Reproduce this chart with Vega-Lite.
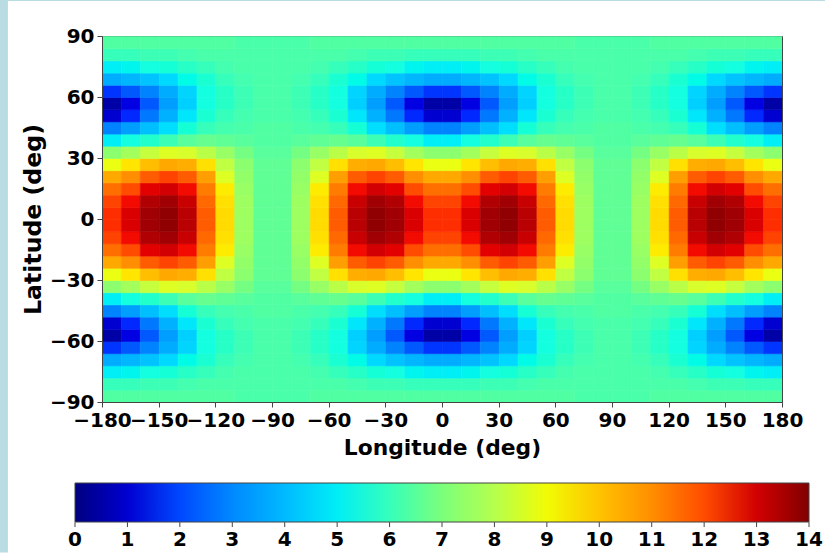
{"$schema":"https://vega.github.io/schema/vega-lite/v6.json","width":680,"height":366,"padding":{"left":102,"top":36,"right":43,"bottom":151},"autosize":"none","background":"#ffffff","config":{"view":{"stroke":"#444444","strokeWidth":1},"font":"DejaVu Sans"},"resolve":{"scale":{"x":"independent"},"axis":{"y":"independent"}},"layer":[{"data":{"values":[
{"x":-180,"y":-90,"v":6.4},{"x":-170,"y":-90,"v":6.4},{"x":-160,"y":-90,"v":6.4},{"x":-150,"y":-90,"v":6.4},{"x":-140,"y":-90,"v":6.4},{"x":-130,"y":-90,"v":6.4},{"x":-120,"y":-90,"v":6.4},{"x":-110,"y":-90,"v":6.3},{"x":-100,"y":-90,"v":6.3},{"x":-90,"y":-90,"v":6.3},{"x":-80,"y":-90,"v":6.3},{"x":-70,"y":-90,"v":6.4},{"x":-60,"y":-90,"v":6.4},{"x":-50,"y":-90,"v":6.4},{"x":-40,"y":-90,"v":6.4},{"x":-30,"y":-90,"v":6.4},{"x":-20,"y":-90,"v":6.4},{"x":-10,"y":-90,"v":6.4},{"x":0,"y":-90,"v":6.4},{"x":10,"y":-90,"v":6.4},{"x":20,"y":-90,"v":6.4},{"x":30,"y":-90,"v":6.4},{"x":40,"y":-90,"v":6.4},{"x":50,"y":-90,"v":6.4},{"x":60,"y":-90,"v":6.4},{"x":70,"y":-90,"v":6.3},{"x":80,"y":-90,"v":6.3},{"x":90,"y":-90,"v":6.3},{"x":100,"y":-90,"v":6.3},{"x":110,"y":-90,"v":6.4},{"x":120,"y":-90,"v":6.4},{"x":130,"y":-90,"v":6.4},{"x":140,"y":-90,"v":6.4},{"x":150,"y":-90,"v":6.4},{"x":160,"y":-90,"v":6.4},{"x":170,"y":-90,"v":6.4},
{"x":-180,"y":-84,"v":6.0},{"x":-170,"y":-84,"v":6.0},{"x":-160,"y":-84,"v":6.1},{"x":-150,"y":-84,"v":6.1},{"x":-140,"y":-84,"v":6.2},{"x":-130,"y":-84,"v":6.3},{"x":-120,"y":-84,"v":6.3},{"x":-110,"y":-84,"v":6.3},{"x":-100,"y":-84,"v":6.3},{"x":-90,"y":-84,"v":6.3},{"x":-80,"y":-84,"v":6.3},{"x":-70,"y":-84,"v":6.3},{"x":-60,"y":-84,"v":6.3},{"x":-50,"y":-84,"v":6.2},{"x":-40,"y":-84,"v":6.1},{"x":-30,"y":-84,"v":6.1},{"x":-20,"y":-84,"v":6.0},{"x":-10,"y":-84,"v":6.0},{"x":0,"y":-84,"v":6.0},{"x":10,"y":-84,"v":6.0},{"x":20,"y":-84,"v":6.1},{"x":30,"y":-84,"v":6.1},{"x":40,"y":-84,"v":6.2},{"x":50,"y":-84,"v":6.3},{"x":60,"y":-84,"v":6.3},{"x":70,"y":-84,"v":6.3},{"x":80,"y":-84,"v":6.3},{"x":90,"y":-84,"v":6.3},{"x":100,"y":-84,"v":6.3},{"x":110,"y":-84,"v":6.3},{"x":120,"y":-84,"v":6.3},{"x":130,"y":-84,"v":6.2},{"x":140,"y":-84,"v":6.1},{"x":150,"y":-84,"v":6.1},{"x":160,"y":-84,"v":6.0},{"x":170,"y":-84,"v":6.0},
{"x":-180,"y":-78,"v":5.0},{"x":-170,"y":-78,"v":5.1},{"x":-160,"y":-78,"v":5.3},{"x":-150,"y":-78,"v":5.5},{"x":-140,"y":-78,"v":5.8},{"x":-130,"y":-78,"v":6.0},{"x":-120,"y":-78,"v":6.2},{"x":-110,"y":-78,"v":6.3},{"x":-100,"y":-78,"v":6.3},{"x":-90,"y":-78,"v":6.3},{"x":-80,"y":-78,"v":6.3},{"x":-70,"y":-78,"v":6.2},{"x":-60,"y":-78,"v":6.0},{"x":-50,"y":-78,"v":5.8},{"x":-40,"y":-78,"v":5.5},{"x":-30,"y":-78,"v":5.3},{"x":-20,"y":-78,"v":5.1},{"x":-10,"y":-78,"v":5.0},{"x":0,"y":-78,"v":5.0},{"x":10,"y":-78,"v":5.1},{"x":20,"y":-78,"v":5.3},{"x":30,"y":-78,"v":5.5},{"x":40,"y":-78,"v":5.8},{"x":50,"y":-78,"v":6.0},{"x":60,"y":-78,"v":6.2},{"x":70,"y":-78,"v":6.3},{"x":80,"y":-78,"v":6.3},{"x":90,"y":-78,"v":6.3},{"x":100,"y":-78,"v":6.3},{"x":110,"y":-78,"v":6.2},{"x":120,"y":-78,"v":6.0},{"x":130,"y":-78,"v":5.8},{"x":140,"y":-78,"v":5.5},{"x":150,"y":-78,"v":5.3},{"x":160,"y":-78,"v":5.1},{"x":170,"y":-78,"v":5.0},
{"x":-180,"y":-72,"v":3.7},{"x":-170,"y":-72,"v":3.9},{"x":-160,"y":-72,"v":4.2},{"x":-150,"y":-72,"v":4.7},{"x":-140,"y":-72,"v":5.2},{"x":-130,"y":-72,"v":5.6},{"x":-120,"y":-72,"v":6.0},{"x":-110,"y":-72,"v":6.2},{"x":-100,"y":-72,"v":6.3},{"x":-90,"y":-72,"v":6.3},{"x":-80,"y":-72,"v":6.2},{"x":-70,"y":-72,"v":6.0},{"x":-60,"y":-72,"v":5.6},{"x":-50,"y":-72,"v":5.2},{"x":-40,"y":-72,"v":4.7},{"x":-30,"y":-72,"v":4.2},{"x":-20,"y":-72,"v":3.9},{"x":-10,"y":-72,"v":3.7},{"x":0,"y":-72,"v":3.7},{"x":10,"y":-72,"v":3.9},{"x":20,"y":-72,"v":4.2},{"x":30,"y":-72,"v":4.7},{"x":40,"y":-72,"v":5.2},{"x":50,"y":-72,"v":5.6},{"x":60,"y":-72,"v":6.0},{"x":70,"y":-72,"v":6.2},{"x":80,"y":-72,"v":6.3},{"x":90,"y":-72,"v":6.3},{"x":100,"y":-72,"v":6.2},{"x":110,"y":-72,"v":6.0},{"x":120,"y":-72,"v":5.6},{"x":130,"y":-72,"v":5.2},{"x":140,"y":-72,"v":4.7},{"x":150,"y":-72,"v":4.2},{"x":160,"y":-72,"v":3.9},{"x":170,"y":-72,"v":3.7},
{"x":-180,"y":-66,"v":1.8},{"x":-170,"y":-66,"v":2.2},{"x":-160,"y":-66,"v":2.9},{"x":-150,"y":-66,"v":3.7},{"x":-140,"y":-66,"v":4.6},{"x":-130,"y":-66,"v":5.3},{"x":-120,"y":-66,"v":5.8},{"x":-110,"y":-66,"v":6.1},{"x":-100,"y":-66,"v":6.3},{"x":-90,"y":-66,"v":6.3},{"x":-80,"y":-66,"v":6.1},{"x":-70,"y":-66,"v":5.8},{"x":-60,"y":-66,"v":5.3},{"x":-50,"y":-66,"v":4.6},{"x":-40,"y":-66,"v":3.7},{"x":-30,"y":-66,"v":2.9},{"x":-20,"y":-66,"v":2.2},{"x":-10,"y":-66,"v":1.8},{"x":0,"y":-66,"v":1.8},{"x":10,"y":-66,"v":2.2},{"x":20,"y":-66,"v":2.9},{"x":30,"y":-66,"v":3.7},{"x":40,"y":-66,"v":4.6},{"x":50,"y":-66,"v":5.3},{"x":60,"y":-66,"v":5.8},{"x":70,"y":-66,"v":6.1},{"x":80,"y":-66,"v":6.3},{"x":90,"y":-66,"v":6.3},{"x":100,"y":-66,"v":6.1},{"x":110,"y":-66,"v":5.8},{"x":120,"y":-66,"v":5.3},{"x":130,"y":-66,"v":4.6},{"x":140,"y":-66,"v":3.7},{"x":150,"y":-66,"v":2.9},{"x":160,"y":-66,"v":2.2},{"x":170,"y":-66,"v":1.8},
{"x":-180,"y":-60,"v":0.5},{"x":-170,"y":-60,"v":1.2},{"x":-160,"y":-60,"v":2.2},{"x":-150,"y":-60,"v":3.4},{"x":-140,"y":-60,"v":4.5},{"x":-130,"y":-60,"v":5.3},{"x":-120,"y":-60,"v":5.8},{"x":-110,"y":-60,"v":6.1},{"x":-100,"y":-60,"v":6.3},{"x":-90,"y":-60,"v":6.3},{"x":-80,"y":-60,"v":6.1},{"x":-70,"y":-60,"v":5.8},{"x":-60,"y":-60,"v":5.3},{"x":-50,"y":-60,"v":4.5},{"x":-40,"y":-60,"v":3.4},{"x":-30,"y":-60,"v":2.2},{"x":-20,"y":-60,"v":1.2},{"x":-10,"y":-60,"v":0.5},{"x":0,"y":-60,"v":0.5},{"x":10,"y":-60,"v":1.2},{"x":20,"y":-60,"v":2.2},{"x":30,"y":-60,"v":3.4},{"x":40,"y":-60,"v":4.5},{"x":50,"y":-60,"v":5.3},{"x":60,"y":-60,"v":5.8},{"x":70,"y":-60,"v":6.1},{"x":80,"y":-60,"v":6.3},{"x":90,"y":-60,"v":6.3},{"x":100,"y":-60,"v":6.1},{"x":110,"y":-60,"v":5.8},{"x":120,"y":-60,"v":5.3},{"x":130,"y":-60,"v":4.5},{"x":140,"y":-60,"v":3.4},{"x":150,"y":-60,"v":2.2},{"x":160,"y":-60,"v":1.2},{"x":170,"y":-60,"v":0.5},
{"x":-180,"y":-54,"v":1.0},{"x":-170,"y":-54,"v":1.7},{"x":-160,"y":-54,"v":2.7},{"x":-150,"y":-54,"v":3.8},{"x":-140,"y":-54,"v":4.9},{"x":-130,"y":-54,"v":5.6},{"x":-120,"y":-54,"v":6.0},{"x":-110,"y":-54,"v":6.2},{"x":-100,"y":-54,"v":6.3},{"x":-90,"y":-54,"v":6.3},{"x":-80,"y":-54,"v":6.2},{"x":-70,"y":-54,"v":6.0},{"x":-60,"y":-54,"v":5.6},{"x":-50,"y":-54,"v":4.9},{"x":-40,"y":-54,"v":3.8},{"x":-30,"y":-54,"v":2.7},{"x":-20,"y":-54,"v":1.7},{"x":-10,"y":-54,"v":1.0},{"x":0,"y":-54,"v":1.0},{"x":10,"y":-54,"v":1.7},{"x":20,"y":-54,"v":2.7},{"x":30,"y":-54,"v":3.8},{"x":40,"y":-54,"v":4.9},{"x":50,"y":-54,"v":5.6},{"x":60,"y":-54,"v":6.0},{"x":70,"y":-54,"v":6.2},{"x":80,"y":-54,"v":6.3},{"x":90,"y":-54,"v":6.3},{"x":100,"y":-54,"v":6.2},{"x":110,"y":-54,"v":6.0},{"x":120,"y":-54,"v":5.6},{"x":130,"y":-54,"v":4.9},{"x":140,"y":-54,"v":3.8},{"x":150,"y":-54,"v":2.7},{"x":160,"y":-54,"v":1.7},{"x":170,"y":-54,"v":1.0},
{"x":-180,"y":-48,"v":2.9},{"x":-170,"y":-48,"v":3.4},{"x":-160,"y":-48,"v":4.1},{"x":-150,"y":-48,"v":4.8},{"x":-140,"y":-48,"v":5.5},{"x":-130,"y":-48,"v":6.0},{"x":-120,"y":-48,"v":6.2},{"x":-110,"y":-48,"v":6.3},{"x":-100,"y":-48,"v":6.4},{"x":-90,"y":-48,"v":6.4},{"x":-80,"y":-48,"v":6.3},{"x":-70,"y":-48,"v":6.2},{"x":-60,"y":-48,"v":6.0},{"x":-50,"y":-48,"v":5.5},{"x":-40,"y":-48,"v":4.8},{"x":-30,"y":-48,"v":4.1},{"x":-20,"y":-48,"v":3.4},{"x":-10,"y":-48,"v":2.9},{"x":0,"y":-48,"v":2.9},{"x":10,"y":-48,"v":3.4},{"x":20,"y":-48,"v":4.1},{"x":30,"y":-48,"v":4.8},{"x":40,"y":-48,"v":5.5},{"x":50,"y":-48,"v":6.0},{"x":60,"y":-48,"v":6.2},{"x":70,"y":-48,"v":6.3},{"x":80,"y":-48,"v":6.4},{"x":90,"y":-48,"v":6.4},{"x":100,"y":-48,"v":6.3},{"x":110,"y":-48,"v":6.2},{"x":120,"y":-48,"v":6.0},{"x":130,"y":-48,"v":5.5},{"x":140,"y":-48,"v":4.8},{"x":150,"y":-48,"v":4.1},{"x":160,"y":-48,"v":3.4},{"x":170,"y":-48,"v":2.9},
{"x":-180,"y":-42,"v":5.0},{"x":-170,"y":-42,"v":5.3},{"x":-160,"y":-42,"v":5.7},{"x":-150,"y":-42,"v":6.1},{"x":-140,"y":-42,"v":6.5},{"x":-130,"y":-42,"v":6.7},{"x":-120,"y":-42,"v":6.6},{"x":-110,"y":-42,"v":6.5},{"x":-100,"y":-42,"v":6.4},{"x":-90,"y":-42,"v":6.4},{"x":-80,"y":-42,"v":6.5},{"x":-70,"y":-42,"v":6.6},{"x":-60,"y":-42,"v":6.7},{"x":-50,"y":-42,"v":6.5},{"x":-40,"y":-42,"v":6.1},{"x":-30,"y":-42,"v":5.7},{"x":-20,"y":-42,"v":5.3},{"x":-10,"y":-42,"v":5.0},{"x":0,"y":-42,"v":5.0},{"x":10,"y":-42,"v":5.3},{"x":20,"y":-42,"v":5.7},{"x":30,"y":-42,"v":6.1},{"x":40,"y":-42,"v":6.5},{"x":50,"y":-42,"v":6.7},{"x":60,"y":-42,"v":6.6},{"x":70,"y":-42,"v":6.5},{"x":80,"y":-42,"v":6.4},{"x":90,"y":-42,"v":6.4},{"x":100,"y":-42,"v":6.5},{"x":110,"y":-42,"v":6.6},{"x":120,"y":-42,"v":6.7},{"x":130,"y":-42,"v":6.5},{"x":140,"y":-42,"v":6.1},{"x":150,"y":-42,"v":5.7},{"x":160,"y":-42,"v":5.3},{"x":170,"y":-42,"v":5.0},
{"x":-180,"y":-36,"v":7.3},{"x":-170,"y":-36,"v":7.7},{"x":-160,"y":-36,"v":8.3},{"x":-150,"y":-36,"v":8.7},{"x":-140,"y":-36,"v":8.6},{"x":-130,"y":-36,"v":8.1},{"x":-120,"y":-36,"v":7.5},{"x":-110,"y":-36,"v":6.9},{"x":-100,"y":-36,"v":6.5},{"x":-90,"y":-36,"v":6.5},{"x":-80,"y":-36,"v":6.9},{"x":-70,"y":-36,"v":7.5},{"x":-60,"y":-36,"v":8.1},{"x":-50,"y":-36,"v":8.6},{"x":-40,"y":-36,"v":8.7},{"x":-30,"y":-36,"v":8.3},{"x":-20,"y":-36,"v":7.7},{"x":-10,"y":-36,"v":7.3},{"x":0,"y":-36,"v":7.3},{"x":10,"y":-36,"v":7.7},{"x":20,"y":-36,"v":8.3},{"x":30,"y":-36,"v":8.7},{"x":40,"y":-36,"v":8.6},{"x":50,"y":-36,"v":8.1},{"x":60,"y":-36,"v":7.5},{"x":70,"y":-36,"v":6.9},{"x":80,"y":-36,"v":6.5},{"x":90,"y":-36,"v":6.5},{"x":100,"y":-36,"v":6.9},{"x":110,"y":-36,"v":7.5},{"x":120,"y":-36,"v":8.1},{"x":130,"y":-36,"v":8.6},{"x":140,"y":-36,"v":8.7},{"x":150,"y":-36,"v":8.3},{"x":160,"y":-36,"v":7.7},{"x":170,"y":-36,"v":7.3},
{"x":-180,"y":-30,"v":8.9},{"x":-170,"y":-30,"v":9.3},{"x":-160,"y":-30,"v":10.1},{"x":-150,"y":-30,"v":10.5},{"x":-140,"y":-30,"v":10.4},{"x":-130,"y":-30,"v":9.4},{"x":-120,"y":-30,"v":8.2},{"x":-110,"y":-30,"v":7.3},{"x":-100,"y":-30,"v":6.6},{"x":-90,"y":-30,"v":6.6},{"x":-80,"y":-30,"v":7.3},{"x":-70,"y":-30,"v":8.2},{"x":-60,"y":-30,"v":9.4},{"x":-50,"y":-30,"v":10.4},{"x":-40,"y":-30,"v":10.5},{"x":-30,"y":-30,"v":10.1},{"x":-20,"y":-30,"v":9.3},{"x":-10,"y":-30,"v":8.9},{"x":0,"y":-30,"v":8.9},{"x":10,"y":-30,"v":9.3},{"x":20,"y":-30,"v":10.1},{"x":30,"y":-30,"v":10.5},{"x":40,"y":-30,"v":10.4},{"x":50,"y":-30,"v":9.4},{"x":60,"y":-30,"v":8.2},{"x":70,"y":-30,"v":7.3},{"x":80,"y":-30,"v":6.6},{"x":90,"y":-30,"v":6.6},{"x":100,"y":-30,"v":7.3},{"x":110,"y":-30,"v":8.2},{"x":120,"y":-30,"v":9.4},{"x":130,"y":-30,"v":10.4},{"x":140,"y":-30,"v":10.5},{"x":150,"y":-30,"v":10.1},{"x":160,"y":-30,"v":9.3},{"x":170,"y":-30,"v":8.9},
{"x":-180,"y":-24,"v":10.5},{"x":-170,"y":-24,"v":11.0},{"x":-160,"y":-24,"v":11.8},{"x":-150,"y":-24,"v":12.1},{"x":-140,"y":-24,"v":11.8},{"x":-130,"y":-24,"v":10.7},{"x":-120,"y":-24,"v":8.7},{"x":-110,"y":-24,"v":7.4},{"x":-100,"y":-24,"v":6.6},{"x":-90,"y":-24,"v":6.6},{"x":-80,"y":-24,"v":7.4},{"x":-70,"y":-24,"v":8.7},{"x":-60,"y":-24,"v":10.7},{"x":-50,"y":-24,"v":11.8},{"x":-40,"y":-24,"v":12.1},{"x":-30,"y":-24,"v":11.8},{"x":-20,"y":-24,"v":11.0},{"x":-10,"y":-24,"v":10.5},{"x":0,"y":-24,"v":10.5},{"x":10,"y":-24,"v":11.0},{"x":20,"y":-24,"v":11.8},{"x":30,"y":-24,"v":12.1},{"x":40,"y":-24,"v":11.8},{"x":50,"y":-24,"v":10.7},{"x":60,"y":-24,"v":8.7},{"x":70,"y":-24,"v":7.4},{"x":80,"y":-24,"v":6.6},{"x":90,"y":-24,"v":6.6},{"x":100,"y":-24,"v":7.4},{"x":110,"y":-24,"v":8.7},{"x":120,"y":-24,"v":10.7},{"x":130,"y":-24,"v":11.8},{"x":140,"y":-24,"v":12.1},{"x":150,"y":-24,"v":11.8},{"x":160,"y":-24,"v":11.0},{"x":170,"y":-24,"v":10.5},
{"x":-180,"y":-18,"v":11.5},{"x":-170,"y":-18,"v":12.0},{"x":-160,"y":-18,"v":12.8},{"x":-150,"y":-18,"v":13.0},{"x":-140,"y":-18,"v":12.6},{"x":-130,"y":-18,"v":11.3},{"x":-120,"y":-18,"v":9.2},{"x":-110,"y":-18,"v":7.5},{"x":-100,"y":-18,"v":6.6},{"x":-90,"y":-18,"v":6.6},{"x":-80,"y":-18,"v":7.5},{"x":-70,"y":-18,"v":9.2},{"x":-60,"y":-18,"v":11.3},{"x":-50,"y":-18,"v":12.6},{"x":-40,"y":-18,"v":13.0},{"x":-30,"y":-18,"v":12.8},{"x":-20,"y":-18,"v":12.0},{"x":-10,"y":-18,"v":11.5},{"x":0,"y":-18,"v":11.5},{"x":10,"y":-18,"v":12.0},{"x":20,"y":-18,"v":12.8},{"x":30,"y":-18,"v":13.0},{"x":40,"y":-18,"v":12.6},{"x":50,"y":-18,"v":11.3},{"x":60,"y":-18,"v":9.2},{"x":70,"y":-18,"v":7.5},{"x":80,"y":-18,"v":6.6},{"x":90,"y":-18,"v":6.6},{"x":100,"y":-18,"v":7.5},{"x":110,"y":-18,"v":9.2},{"x":120,"y":-18,"v":11.3},{"x":130,"y":-18,"v":12.6},{"x":140,"y":-18,"v":13.0},{"x":150,"y":-18,"v":12.8},{"x":160,"y":-18,"v":12.0},{"x":170,"y":-18,"v":11.5},
{"x":-180,"y":-12,"v":12.1},{"x":-170,"y":-12,"v":12.6},{"x":-160,"y":-12,"v":13.4},{"x":-150,"y":-12,"v":13.6},{"x":-140,"y":-12,"v":13.1},{"x":-130,"y":-12,"v":11.6},{"x":-120,"y":-12,"v":9.4},{"x":-110,"y":-12,"v":7.6},{"x":-100,"y":-12,"v":6.6},{"x":-90,"y":-12,"v":6.6},{"x":-80,"y":-12,"v":7.6},{"x":-70,"y":-12,"v":9.4},{"x":-60,"y":-12,"v":11.6},{"x":-50,"y":-12,"v":13.1},{"x":-40,"y":-12,"v":13.6},{"x":-30,"y":-12,"v":13.4},{"x":-20,"y":-12,"v":12.6},{"x":-10,"y":-12,"v":12.1},{"x":0,"y":-12,"v":12.1},{"x":10,"y":-12,"v":12.6},{"x":20,"y":-12,"v":13.4},{"x":30,"y":-12,"v":13.6},{"x":40,"y":-12,"v":13.1},{"x":50,"y":-12,"v":11.6},{"x":60,"y":-12,"v":9.4},{"x":70,"y":-12,"v":7.6},{"x":80,"y":-12,"v":6.6},{"x":90,"y":-12,"v":6.6},{"x":100,"y":-12,"v":7.6},{"x":110,"y":-12,"v":9.4},{"x":120,"y":-12,"v":11.6},{"x":130,"y":-12,"v":13.1},{"x":140,"y":-12,"v":13.6},{"x":150,"y":-12,"v":13.4},{"x":160,"y":-12,"v":12.6},{"x":170,"y":-12,"v":12.1},
{"x":-180,"y":-6,"v":12.3},{"x":-170,"y":-6,"v":12.9},{"x":-160,"y":-6,"v":13.6},{"x":-150,"y":-6,"v":13.8},{"x":-140,"y":-6,"v":13.3},{"x":-130,"y":-6,"v":11.8},{"x":-120,"y":-6,"v":9.5},{"x":-110,"y":-6,"v":7.6},{"x":-100,"y":-6,"v":6.6},{"x":-90,"y":-6,"v":6.6},{"x":-80,"y":-6,"v":7.6},{"x":-70,"y":-6,"v":9.5},{"x":-60,"y":-6,"v":11.8},{"x":-50,"y":-6,"v":13.3},{"x":-40,"y":-6,"v":13.8},{"x":-30,"y":-6,"v":13.6},{"x":-20,"y":-6,"v":12.9},{"x":-10,"y":-6,"v":12.3},{"x":0,"y":-6,"v":12.3},{"x":10,"y":-6,"v":12.9},{"x":20,"y":-6,"v":13.6},{"x":30,"y":-6,"v":13.8},{"x":40,"y":-6,"v":13.3},{"x":50,"y":-6,"v":11.8},{"x":60,"y":-6,"v":9.5},{"x":70,"y":-6,"v":7.6},{"x":80,"y":-6,"v":6.6},{"x":90,"y":-6,"v":6.6},{"x":100,"y":-6,"v":7.6},{"x":110,"y":-6,"v":9.5},{"x":120,"y":-6,"v":11.8},{"x":130,"y":-6,"v":13.3},{"x":140,"y":-6,"v":13.8},{"x":150,"y":-6,"v":13.6},{"x":160,"y":-6,"v":12.9},{"x":170,"y":-6,"v":12.3},
{"x":-180,"y":0,"v":12.3},{"x":-170,"y":0,"v":12.9},{"x":-160,"y":0,"v":13.6},{"x":-150,"y":0,"v":13.8},{"x":-140,"y":0,"v":13.3},{"x":-130,"y":0,"v":11.8},{"x":-120,"y":0,"v":9.5},{"x":-110,"y":0,"v":7.6},{"x":-100,"y":0,"v":6.6},{"x":-90,"y":0,"v":6.6},{"x":-80,"y":0,"v":7.6},{"x":-70,"y":0,"v":9.5},{"x":-60,"y":0,"v":11.8},{"x":-50,"y":0,"v":13.3},{"x":-40,"y":0,"v":13.8},{"x":-30,"y":0,"v":13.6},{"x":-20,"y":0,"v":12.9},{"x":-10,"y":0,"v":12.3},{"x":0,"y":0,"v":12.3},{"x":10,"y":0,"v":12.9},{"x":20,"y":0,"v":13.6},{"x":30,"y":0,"v":13.8},{"x":40,"y":0,"v":13.3},{"x":50,"y":0,"v":11.8},{"x":60,"y":0,"v":9.5},{"x":70,"y":0,"v":7.6},{"x":80,"y":0,"v":6.6},{"x":90,"y":0,"v":6.6},{"x":100,"y":0,"v":7.6},{"x":110,"y":0,"v":9.5},{"x":120,"y":0,"v":11.8},{"x":130,"y":0,"v":13.3},{"x":140,"y":0,"v":13.8},{"x":150,"y":0,"v":13.6},{"x":160,"y":0,"v":12.9},{"x":170,"y":0,"v":12.3},
{"x":-180,"y":6,"v":12.1},{"x":-170,"y":6,"v":12.6},{"x":-160,"y":6,"v":13.4},{"x":-150,"y":6,"v":13.6},{"x":-140,"y":6,"v":13.1},{"x":-130,"y":6,"v":11.6},{"x":-120,"y":6,"v":9.4},{"x":-110,"y":6,"v":7.6},{"x":-100,"y":6,"v":6.6},{"x":-90,"y":6,"v":6.6},{"x":-80,"y":6,"v":7.6},{"x":-70,"y":6,"v":9.4},{"x":-60,"y":6,"v":11.6},{"x":-50,"y":6,"v":13.1},{"x":-40,"y":6,"v":13.6},{"x":-30,"y":6,"v":13.4},{"x":-20,"y":6,"v":12.6},{"x":-10,"y":6,"v":12.1},{"x":0,"y":6,"v":12.1},{"x":10,"y":6,"v":12.6},{"x":20,"y":6,"v":13.4},{"x":30,"y":6,"v":13.6},{"x":40,"y":6,"v":13.1},{"x":50,"y":6,"v":11.6},{"x":60,"y":6,"v":9.4},{"x":70,"y":6,"v":7.6},{"x":80,"y":6,"v":6.6},{"x":90,"y":6,"v":6.6},{"x":100,"y":6,"v":7.6},{"x":110,"y":6,"v":9.4},{"x":120,"y":6,"v":11.6},{"x":130,"y":6,"v":13.1},{"x":140,"y":6,"v":13.6},{"x":150,"y":6,"v":13.4},{"x":160,"y":6,"v":12.6},{"x":170,"y":6,"v":12.1},
{"x":-180,"y":12,"v":11.5},{"x":-170,"y":12,"v":12.0},{"x":-160,"y":12,"v":12.8},{"x":-150,"y":12,"v":13.0},{"x":-140,"y":12,"v":12.6},{"x":-130,"y":12,"v":11.3},{"x":-120,"y":12,"v":9.2},{"x":-110,"y":12,"v":7.5},{"x":-100,"y":12,"v":6.6},{"x":-90,"y":12,"v":6.6},{"x":-80,"y":12,"v":7.5},{"x":-70,"y":12,"v":9.2},{"x":-60,"y":12,"v":11.3},{"x":-50,"y":12,"v":12.6},{"x":-40,"y":12,"v":13.0},{"x":-30,"y":12,"v":12.8},{"x":-20,"y":12,"v":12.0},{"x":-10,"y":12,"v":11.5},{"x":0,"y":12,"v":11.5},{"x":10,"y":12,"v":12.0},{"x":20,"y":12,"v":12.8},{"x":30,"y":12,"v":13.0},{"x":40,"y":12,"v":12.6},{"x":50,"y":12,"v":11.3},{"x":60,"y":12,"v":9.2},{"x":70,"y":12,"v":7.5},{"x":80,"y":12,"v":6.6},{"x":90,"y":12,"v":6.6},{"x":100,"y":12,"v":7.5},{"x":110,"y":12,"v":9.2},{"x":120,"y":12,"v":11.3},{"x":130,"y":12,"v":12.6},{"x":140,"y":12,"v":13.0},{"x":150,"y":12,"v":12.8},{"x":160,"y":12,"v":12.0},{"x":170,"y":12,"v":11.5},
{"x":-180,"y":18,"v":10.5},{"x":-170,"y":18,"v":11.0},{"x":-160,"y":18,"v":11.8},{"x":-150,"y":18,"v":12.1},{"x":-140,"y":18,"v":11.8},{"x":-130,"y":18,"v":10.7},{"x":-120,"y":18,"v":8.7},{"x":-110,"y":18,"v":7.4},{"x":-100,"y":18,"v":6.6},{"x":-90,"y":18,"v":6.6},{"x":-80,"y":18,"v":7.4},{"x":-70,"y":18,"v":8.7},{"x":-60,"y":18,"v":10.7},{"x":-50,"y":18,"v":11.8},{"x":-40,"y":18,"v":12.1},{"x":-30,"y":18,"v":11.8},{"x":-20,"y":18,"v":11.0},{"x":-10,"y":18,"v":10.5},{"x":0,"y":18,"v":10.5},{"x":10,"y":18,"v":11.0},{"x":20,"y":18,"v":11.8},{"x":30,"y":18,"v":12.1},{"x":40,"y":18,"v":11.8},{"x":50,"y":18,"v":10.7},{"x":60,"y":18,"v":8.7},{"x":70,"y":18,"v":7.4},{"x":80,"y":18,"v":6.6},{"x":90,"y":18,"v":6.6},{"x":100,"y":18,"v":7.4},{"x":110,"y":18,"v":8.7},{"x":120,"y":18,"v":10.7},{"x":130,"y":18,"v":11.8},{"x":140,"y":18,"v":12.1},{"x":150,"y":18,"v":11.8},{"x":160,"y":18,"v":11.0},{"x":170,"y":18,"v":10.5},
{"x":-180,"y":24,"v":8.9},{"x":-170,"y":24,"v":9.3},{"x":-160,"y":24,"v":10.1},{"x":-150,"y":24,"v":10.5},{"x":-140,"y":24,"v":10.4},{"x":-130,"y":24,"v":9.4},{"x":-120,"y":24,"v":8.2},{"x":-110,"y":24,"v":7.3},{"x":-100,"y":24,"v":6.6},{"x":-90,"y":24,"v":6.6},{"x":-80,"y":24,"v":7.3},{"x":-70,"y":24,"v":8.2},{"x":-60,"y":24,"v":9.4},{"x":-50,"y":24,"v":10.4},{"x":-40,"y":24,"v":10.5},{"x":-30,"y":24,"v":10.1},{"x":-20,"y":24,"v":9.3},{"x":-10,"y":24,"v":8.9},{"x":0,"y":24,"v":8.9},{"x":10,"y":24,"v":9.3},{"x":20,"y":24,"v":10.1},{"x":30,"y":24,"v":10.5},{"x":40,"y":24,"v":10.4},{"x":50,"y":24,"v":9.4},{"x":60,"y":24,"v":8.2},{"x":70,"y":24,"v":7.3},{"x":80,"y":24,"v":6.6},{"x":90,"y":24,"v":6.6},{"x":100,"y":24,"v":7.3},{"x":110,"y":24,"v":8.2},{"x":120,"y":24,"v":9.4},{"x":130,"y":24,"v":10.4},{"x":140,"y":24,"v":10.5},{"x":150,"y":24,"v":10.1},{"x":160,"y":24,"v":9.3},{"x":170,"y":24,"v":8.9},
{"x":-180,"y":30,"v":7.3},{"x":-170,"y":30,"v":7.7},{"x":-160,"y":30,"v":8.3},{"x":-150,"y":30,"v":8.7},{"x":-140,"y":30,"v":8.6},{"x":-130,"y":30,"v":8.1},{"x":-120,"y":30,"v":7.5},{"x":-110,"y":30,"v":6.9},{"x":-100,"y":30,"v":6.5},{"x":-90,"y":30,"v":6.5},{"x":-80,"y":30,"v":6.9},{"x":-70,"y":30,"v":7.5},{"x":-60,"y":30,"v":8.1},{"x":-50,"y":30,"v":8.6},{"x":-40,"y":30,"v":8.7},{"x":-30,"y":30,"v":8.3},{"x":-20,"y":30,"v":7.7},{"x":-10,"y":30,"v":7.3},{"x":0,"y":30,"v":7.3},{"x":10,"y":30,"v":7.7},{"x":20,"y":30,"v":8.3},{"x":30,"y":30,"v":8.7},{"x":40,"y":30,"v":8.6},{"x":50,"y":30,"v":8.1},{"x":60,"y":30,"v":7.5},{"x":70,"y":30,"v":6.9},{"x":80,"y":30,"v":6.5},{"x":90,"y":30,"v":6.5},{"x":100,"y":30,"v":6.9},{"x":110,"y":30,"v":7.5},{"x":120,"y":30,"v":8.1},{"x":130,"y":30,"v":8.6},{"x":140,"y":30,"v":8.7},{"x":150,"y":30,"v":8.3},{"x":160,"y":30,"v":7.7},{"x":170,"y":30,"v":7.3},
{"x":-180,"y":36,"v":5.0},{"x":-170,"y":36,"v":5.3},{"x":-160,"y":36,"v":5.7},{"x":-150,"y":36,"v":6.1},{"x":-140,"y":36,"v":6.5},{"x":-130,"y":36,"v":6.7},{"x":-120,"y":36,"v":6.6},{"x":-110,"y":36,"v":6.5},{"x":-100,"y":36,"v":6.4},{"x":-90,"y":36,"v":6.4},{"x":-80,"y":36,"v":6.5},{"x":-70,"y":36,"v":6.6},{"x":-60,"y":36,"v":6.7},{"x":-50,"y":36,"v":6.5},{"x":-40,"y":36,"v":6.1},{"x":-30,"y":36,"v":5.7},{"x":-20,"y":36,"v":5.3},{"x":-10,"y":36,"v":5.0},{"x":0,"y":36,"v":5.0},{"x":10,"y":36,"v":5.3},{"x":20,"y":36,"v":5.7},{"x":30,"y":36,"v":6.1},{"x":40,"y":36,"v":6.5},{"x":50,"y":36,"v":6.7},{"x":60,"y":36,"v":6.6},{"x":70,"y":36,"v":6.5},{"x":80,"y":36,"v":6.4},{"x":90,"y":36,"v":6.4},{"x":100,"y":36,"v":6.5},{"x":110,"y":36,"v":6.6},{"x":120,"y":36,"v":6.7},{"x":130,"y":36,"v":6.5},{"x":140,"y":36,"v":6.1},{"x":150,"y":36,"v":5.7},{"x":160,"y":36,"v":5.3},{"x":170,"y":36,"v":5.0},
{"x":-180,"y":42,"v":2.9},{"x":-170,"y":42,"v":3.4},{"x":-160,"y":42,"v":4.1},{"x":-150,"y":42,"v":4.8},{"x":-140,"y":42,"v":5.5},{"x":-130,"y":42,"v":6.0},{"x":-120,"y":42,"v":6.2},{"x":-110,"y":42,"v":6.3},{"x":-100,"y":42,"v":6.4},{"x":-90,"y":42,"v":6.4},{"x":-80,"y":42,"v":6.3},{"x":-70,"y":42,"v":6.2},{"x":-60,"y":42,"v":6.0},{"x":-50,"y":42,"v":5.5},{"x":-40,"y":42,"v":4.8},{"x":-30,"y":42,"v":4.1},{"x":-20,"y":42,"v":3.4},{"x":-10,"y":42,"v":2.9},{"x":0,"y":42,"v":2.9},{"x":10,"y":42,"v":3.4},{"x":20,"y":42,"v":4.1},{"x":30,"y":42,"v":4.8},{"x":40,"y":42,"v":5.5},{"x":50,"y":42,"v":6.0},{"x":60,"y":42,"v":6.2},{"x":70,"y":42,"v":6.3},{"x":80,"y":42,"v":6.4},{"x":90,"y":42,"v":6.4},{"x":100,"y":42,"v":6.3},{"x":110,"y":42,"v":6.2},{"x":120,"y":42,"v":6.0},{"x":130,"y":42,"v":5.5},{"x":140,"y":42,"v":4.8},{"x":150,"y":42,"v":4.1},{"x":160,"y":42,"v":3.4},{"x":170,"y":42,"v":2.9},
{"x":-180,"y":48,"v":1.0},{"x":-170,"y":48,"v":1.7},{"x":-160,"y":48,"v":2.7},{"x":-150,"y":48,"v":3.8},{"x":-140,"y":48,"v":4.9},{"x":-130,"y":48,"v":5.6},{"x":-120,"y":48,"v":6.0},{"x":-110,"y":48,"v":6.2},{"x":-100,"y":48,"v":6.3},{"x":-90,"y":48,"v":6.3},{"x":-80,"y":48,"v":6.2},{"x":-70,"y":48,"v":6.0},{"x":-60,"y":48,"v":5.6},{"x":-50,"y":48,"v":4.9},{"x":-40,"y":48,"v":3.8},{"x":-30,"y":48,"v":2.7},{"x":-20,"y":48,"v":1.7},{"x":-10,"y":48,"v":1.0},{"x":0,"y":48,"v":1.0},{"x":10,"y":48,"v":1.7},{"x":20,"y":48,"v":2.7},{"x":30,"y":48,"v":3.8},{"x":40,"y":48,"v":4.9},{"x":50,"y":48,"v":5.6},{"x":60,"y":48,"v":6.0},{"x":70,"y":48,"v":6.2},{"x":80,"y":48,"v":6.3},{"x":90,"y":48,"v":6.3},{"x":100,"y":48,"v":6.2},{"x":110,"y":48,"v":6.0},{"x":120,"y":48,"v":5.6},{"x":130,"y":48,"v":4.9},{"x":140,"y":48,"v":3.8},{"x":150,"y":48,"v":2.7},{"x":160,"y":48,"v":1.7},{"x":170,"y":48,"v":1.0},
{"x":-180,"y":54,"v":0.5},{"x":-170,"y":54,"v":1.2},{"x":-160,"y":54,"v":2.2},{"x":-150,"y":54,"v":3.4},{"x":-140,"y":54,"v":4.5},{"x":-130,"y":54,"v":5.3},{"x":-120,"y":54,"v":5.8},{"x":-110,"y":54,"v":6.1},{"x":-100,"y":54,"v":6.3},{"x":-90,"y":54,"v":6.3},{"x":-80,"y":54,"v":6.1},{"x":-70,"y":54,"v":5.8},{"x":-60,"y":54,"v":5.3},{"x":-50,"y":54,"v":4.5},{"x":-40,"y":54,"v":3.4},{"x":-30,"y":54,"v":2.2},{"x":-20,"y":54,"v":1.2},{"x":-10,"y":54,"v":0.5},{"x":0,"y":54,"v":0.5},{"x":10,"y":54,"v":1.2},{"x":20,"y":54,"v":2.2},{"x":30,"y":54,"v":3.4},{"x":40,"y":54,"v":4.5},{"x":50,"y":54,"v":5.3},{"x":60,"y":54,"v":5.8},{"x":70,"y":54,"v":6.1},{"x":80,"y":54,"v":6.3},{"x":90,"y":54,"v":6.3},{"x":100,"y":54,"v":6.1},{"x":110,"y":54,"v":5.8},{"x":120,"y":54,"v":5.3},{"x":130,"y":54,"v":4.5},{"x":140,"y":54,"v":3.4},{"x":150,"y":54,"v":2.2},{"x":160,"y":54,"v":1.2},{"x":170,"y":54,"v":0.5},
{"x":-180,"y":60,"v":1.8},{"x":-170,"y":60,"v":2.2},{"x":-160,"y":60,"v":2.9},{"x":-150,"y":60,"v":3.7},{"x":-140,"y":60,"v":4.6},{"x":-130,"y":60,"v":5.3},{"x":-120,"y":60,"v":5.8},{"x":-110,"y":60,"v":6.1},{"x":-100,"y":60,"v":6.3},{"x":-90,"y":60,"v":6.3},{"x":-80,"y":60,"v":6.1},{"x":-70,"y":60,"v":5.8},{"x":-60,"y":60,"v":5.3},{"x":-50,"y":60,"v":4.6},{"x":-40,"y":60,"v":3.7},{"x":-30,"y":60,"v":2.9},{"x":-20,"y":60,"v":2.2},{"x":-10,"y":60,"v":1.8},{"x":0,"y":60,"v":1.8},{"x":10,"y":60,"v":2.2},{"x":20,"y":60,"v":2.9},{"x":30,"y":60,"v":3.7},{"x":40,"y":60,"v":4.6},{"x":50,"y":60,"v":5.3},{"x":60,"y":60,"v":5.8},{"x":70,"y":60,"v":6.1},{"x":80,"y":60,"v":6.3},{"x":90,"y":60,"v":6.3},{"x":100,"y":60,"v":6.1},{"x":110,"y":60,"v":5.8},{"x":120,"y":60,"v":5.3},{"x":130,"y":60,"v":4.6},{"x":140,"y":60,"v":3.7},{"x":150,"y":60,"v":2.9},{"x":160,"y":60,"v":2.2},{"x":170,"y":60,"v":1.8},
{"x":-180,"y":66,"v":3.7},{"x":-170,"y":66,"v":3.9},{"x":-160,"y":66,"v":4.2},{"x":-150,"y":66,"v":4.7},{"x":-140,"y":66,"v":5.2},{"x":-130,"y":66,"v":5.6},{"x":-120,"y":66,"v":6.0},{"x":-110,"y":66,"v":6.2},{"x":-100,"y":66,"v":6.3},{"x":-90,"y":66,"v":6.3},{"x":-80,"y":66,"v":6.2},{"x":-70,"y":66,"v":6.0},{"x":-60,"y":66,"v":5.6},{"x":-50,"y":66,"v":5.2},{"x":-40,"y":66,"v":4.7},{"x":-30,"y":66,"v":4.2},{"x":-20,"y":66,"v":3.9},{"x":-10,"y":66,"v":3.7},{"x":0,"y":66,"v":3.7},{"x":10,"y":66,"v":3.9},{"x":20,"y":66,"v":4.2},{"x":30,"y":66,"v":4.7},{"x":40,"y":66,"v":5.2},{"x":50,"y":66,"v":5.6},{"x":60,"y":66,"v":6.0},{"x":70,"y":66,"v":6.2},{"x":80,"y":66,"v":6.3},{"x":90,"y":66,"v":6.3},{"x":100,"y":66,"v":6.2},{"x":110,"y":66,"v":6.0},{"x":120,"y":66,"v":5.6},{"x":130,"y":66,"v":5.2},{"x":140,"y":66,"v":4.7},{"x":150,"y":66,"v":4.2},{"x":160,"y":66,"v":3.9},{"x":170,"y":66,"v":3.7},
{"x":-180,"y":72,"v":5.0},{"x":-170,"y":72,"v":5.1},{"x":-160,"y":72,"v":5.3},{"x":-150,"y":72,"v":5.5},{"x":-140,"y":72,"v":5.8},{"x":-130,"y":72,"v":6.0},{"x":-120,"y":72,"v":6.2},{"x":-110,"y":72,"v":6.3},{"x":-100,"y":72,"v":6.3},{"x":-90,"y":72,"v":6.3},{"x":-80,"y":72,"v":6.3},{"x":-70,"y":72,"v":6.2},{"x":-60,"y":72,"v":6.0},{"x":-50,"y":72,"v":5.8},{"x":-40,"y":72,"v":5.5},{"x":-30,"y":72,"v":5.3},{"x":-20,"y":72,"v":5.1},{"x":-10,"y":72,"v":5.0},{"x":0,"y":72,"v":5.0},{"x":10,"y":72,"v":5.1},{"x":20,"y":72,"v":5.3},{"x":30,"y":72,"v":5.5},{"x":40,"y":72,"v":5.8},{"x":50,"y":72,"v":6.0},{"x":60,"y":72,"v":6.2},{"x":70,"y":72,"v":6.3},{"x":80,"y":72,"v":6.3},{"x":90,"y":72,"v":6.3},{"x":100,"y":72,"v":6.3},{"x":110,"y":72,"v":6.2},{"x":120,"y":72,"v":6.0},{"x":130,"y":72,"v":5.8},{"x":140,"y":72,"v":5.5},{"x":150,"y":72,"v":5.3},{"x":160,"y":72,"v":5.1},{"x":170,"y":72,"v":5.0},
{"x":-180,"y":78,"v":6.0},{"x":-170,"y":78,"v":6.0},{"x":-160,"y":78,"v":6.1},{"x":-150,"y":78,"v":6.1},{"x":-140,"y":78,"v":6.2},{"x":-130,"y":78,"v":6.3},{"x":-120,"y":78,"v":6.3},{"x":-110,"y":78,"v":6.3},{"x":-100,"y":78,"v":6.3},{"x":-90,"y":78,"v":6.3},{"x":-80,"y":78,"v":6.3},{"x":-70,"y":78,"v":6.3},{"x":-60,"y":78,"v":6.3},{"x":-50,"y":78,"v":6.2},{"x":-40,"y":78,"v":6.1},{"x":-30,"y":78,"v":6.1},{"x":-20,"y":78,"v":6.0},{"x":-10,"y":78,"v":6.0},{"x":0,"y":78,"v":6.0},{"x":10,"y":78,"v":6.0},{"x":20,"y":78,"v":6.1},{"x":30,"y":78,"v":6.1},{"x":40,"y":78,"v":6.2},{"x":50,"y":78,"v":6.3},{"x":60,"y":78,"v":6.3},{"x":70,"y":78,"v":6.3},{"x":80,"y":78,"v":6.3},{"x":90,"y":78,"v":6.3},{"x":100,"y":78,"v":6.3},{"x":110,"y":78,"v":6.3},{"x":120,"y":78,"v":6.3},{"x":130,"y":78,"v":6.2},{"x":140,"y":78,"v":6.1},{"x":150,"y":78,"v":6.1},{"x":160,"y":78,"v":6.0},{"x":170,"y":78,"v":6.0},
{"x":-180,"y":84,"v":6.4},{"x":-170,"y":84,"v":6.4},{"x":-160,"y":84,"v":6.4},{"x":-150,"y":84,"v":6.4},{"x":-140,"y":84,"v":6.4},{"x":-130,"y":84,"v":6.4},{"x":-120,"y":84,"v":6.4},{"x":-110,"y":84,"v":6.3},{"x":-100,"y":84,"v":6.3},{"x":-90,"y":84,"v":6.3},{"x":-80,"y":84,"v":6.3},{"x":-70,"y":84,"v":6.4},{"x":-60,"y":84,"v":6.4},{"x":-50,"y":84,"v":6.4},{"x":-40,"y":84,"v":6.4},{"x":-30,"y":84,"v":6.4},{"x":-20,"y":84,"v":6.4},{"x":-10,"y":84,"v":6.4},{"x":0,"y":84,"v":6.4},{"x":10,"y":84,"v":6.4},{"x":20,"y":84,"v":6.4},{"x":30,"y":84,"v":6.4},{"x":40,"y":84,"v":6.4},{"x":50,"y":84,"v":6.4},{"x":60,"y":84,"v":6.4},{"x":70,"y":84,"v":6.3},{"x":80,"y":84,"v":6.3},{"x":90,"y":84,"v":6.3},{"x":100,"y":84,"v":6.3},{"x":110,"y":84,"v":6.4},{"x":120,"y":84,"v":6.4},{"x":130,"y":84,"v":6.4},{"x":140,"y":84,"v":6.4},{"x":150,"y":84,"v":6.4},{"x":160,"y":84,"v":6.4},{"x":170,"y":84,"v":6.4}
]},"mark":{"type":"rect","strokeWidth":0.6,"clip":true,"stroke":{"expr":"scale('fill',datum.v)"}},"encoding":{"x":{"field":"x","type":"quantitative","bin":{"binned":true,"step":10},"scale":{"domain":[-180,180],"nice":false},"axis":{"title":"Longitude (deg)","values":[-180,-150,-120,-90,-60,-30,0,30,60,90,120,150,180],"format":"d","labelOverlap":false,"labelFlush":false,"labelFont":"DejaVu Sans","labelFontWeight":"bold","labelFontSize":20,"labelColor":"#000","labelPadding":3,"titleFont":"DejaVu Sans","titleFontWeight":"bold","titleFontSize":21.8,"titleColor":"#000","titlePadding":7,"tickColor":"#444","domainColor":"#444","tickSize":5,"grid":false}},"y":{"field":"y","type":"quantitative","bin":{"binned":true,"step":6},"scale":{"domain":[-90,90],"nice":false},"axis":{"title":"Latitude (deg)","values":[-90,-60,-30,0,30,60,90],"format":"d","labelOverlap":false,"labelFlush":false,"labelFont":"DejaVu Sans","labelFontWeight":"bold","labelFontSize":20,"labelColor":"#000","labelPadding":3,"titleFont":"DejaVu Sans","titleFontWeight":"bold","titleFontSize":23.6,"titleColor":"#000","titlePadding":4,"tickColor":"#444","domainColor":"#444","tickSize":5,"grid":false}},"fill":{"field":"v","type":"quantitative","scale":{"domain":[0,1.54,4.76,5.25,7,8.96,9.24,12.46,12.74,14],"range":["#000080","#0000ff","#00dbff","#14ffe2","#7bff7b","#eeff08","#ffe800","#ff1300","#e80000","#800000"]},"legend":{"type":"gradient","title":null,"orient":"none","legendX":-27,"legendY":447,"direction":"horizontal","gradientLength":734,"gradientThickness":39,"gradientStrokeColor":"#444","gradientStrokeWidth":1,"tickCount":15,"labelFont":"DejaVu Sans","labelFontWeight":"bold","labelFontSize":20,"labelColor":"#000","labelOffset":8,"labelOverlap":false,"encode":{"labels":{"update":{"align":{"value":"center"}}}}}}}},{"data":{"values":[{"s":"left"}]},"mark":{"type":"rect","color":"#b9dce2","clip":false},"encoding":{"x":{"datum":-234,"type":"quantitative","scale":{"domain":[-180,180],"nice":false},"axis":null},"x2":{"datum":-229.8},"y":{"datum":108,"type":"quantitative","axis":null},"y2":{"datum":-164}}},{"data":{"values":[{"s":"top"}]},"mark":{"type":"rect","color":"#b9dce2","clip":false},"encoding":{"x":{"datum":-234,"type":"quantitative","scale":{"domain":[-180,180],"nice":false},"axis":null},"x2":{"datum":205},"y":{"datum":108,"type":"quantitative","axis":null},"y2":{"datum":107.2}}},{"data":{"values":[{"c":0},{"c":1},{"c":2},{"c":3},{"c":4},{"c":5},{"c":6},{"c":7},{"c":8},{"c":9},{"c":10},{"c":11},{"c":12},{"c":13},{"c":14}]},"mark":{"type":"rule","color":"#444","clip":false},"encoding":{"x":{"field":"c","type":"quantitative","scale":{"domain":[0.515,13.485],"nice":false,"zero":false},"axis":null},"y":{"datum":-149.1,"type":"quantitative","axis":null},"y2":{"datum":-151.5}}}]}
